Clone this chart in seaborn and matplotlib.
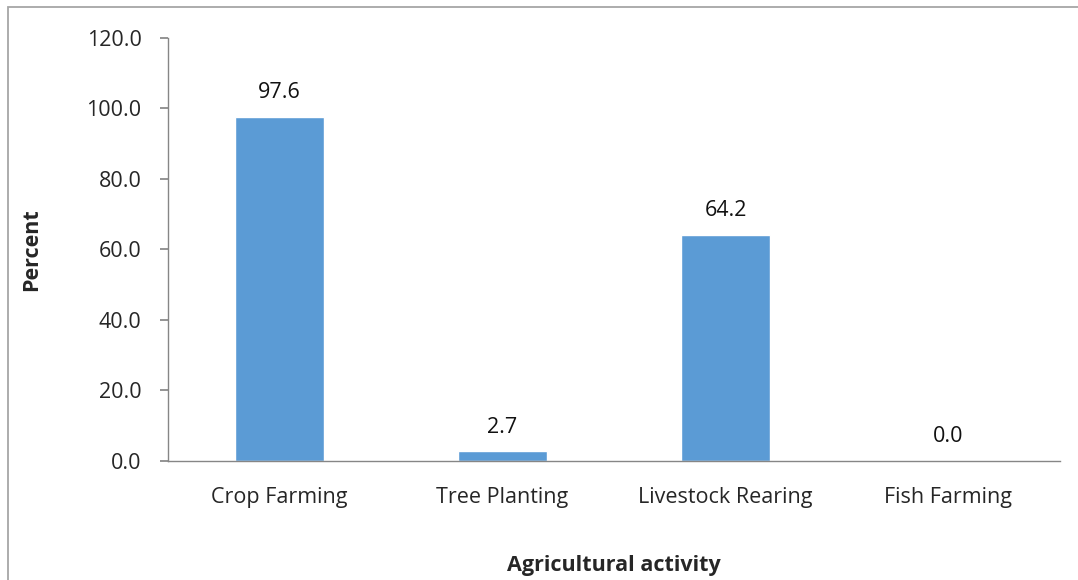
import numpy as np
import pandas as pd
import matplotlib.pyplot as plt
import matplotlib.patches as mpatches
import seaborn as sns

sns.set_theme(style="white")
plt.rcParams["font.family"] = ["Open Sans", "DejaVu Sans"]

BLUE = "#5B9BD5"
AXIS = "#868686"
FS = 15.5

# data
activities = ["Crop Farming", "Tree Planting", "Livestock Rearing", "Fish Farming"]
percent = [97.6, 2.7, 64.2, 0.0]
y_ticks = [0, 20, 40, 60, 80, 100, 120]

df = pd.DataFrame({"activity": activities, "percent": percent})

fig = plt.figure(figsize=(10.78, 5.8), dpi=100)
ax = fig.add_axes([0.1558, 0.2052, 0.8275, 0.7293])

sns.barplot(data=df, x="activity", y="percent", color=BLUE, width=0.4,
            saturation=1, ax=ax)

for i, v in enumerate(percent):
    ax.annotate(f"{v:.1f}", (i, v), xytext=(0, 10), textcoords="offset points",
                ha="center", va="bottom", fontsize=FS, color="#111111")

ax.set_ylim(0, 120)
ax.set_xlim(-0.5, len(activities) - 0.5)
ax.set_yticks(y_ticks)
ax.set_yticklabels([f"{t:.1f}" for t in y_ticks], fontsize=FS)
ax.set_xticks(range(len(activities)))
ax.set_xticklabels(activities, fontsize=FS)
ax.set_xticks(np.arange(-0.5, len(activities)), minor=True)
ax.tick_params(axis="x", which="major", length=0, pad=19)
ax.tick_params(axis="x", which="minor", length=6, color=AXIS, direction="out")
ax.tick_params(axis="y", length=6, color=AXIS, direction="out", pad=13, left=True)

for side in ["top", "right"]:
    ax.spines[side].set_visible(False)
for side in ["left", "bottom"]:
    ax.spines[side].set_color(AXIS)
    ax.spines[side].set_linewidth(1)

ax.set_xlabel("Agricultural activity", fontsize=FS, fontweight="bold")
ax.set_ylabel("Percent", fontsize=FS, fontweight="bold")
ax.xaxis.set_label_coords(0.5, -0.222)
ax.yaxis.set_label_coords(-0.141, 0.5)

# chart area border (cut off at right and bottom in the original)
fig.patches.append(mpatches.Rectangle((8 / 1078, -0.05), 1.1, 1 - 7 / 580 + 0.05,
                                      transform=fig.transFigure, fill=False,
                                      edgecolor="#A6A6A6", linewidth=1.3))

fig.savefig("out.png", dpi=100, facecolor="white")
